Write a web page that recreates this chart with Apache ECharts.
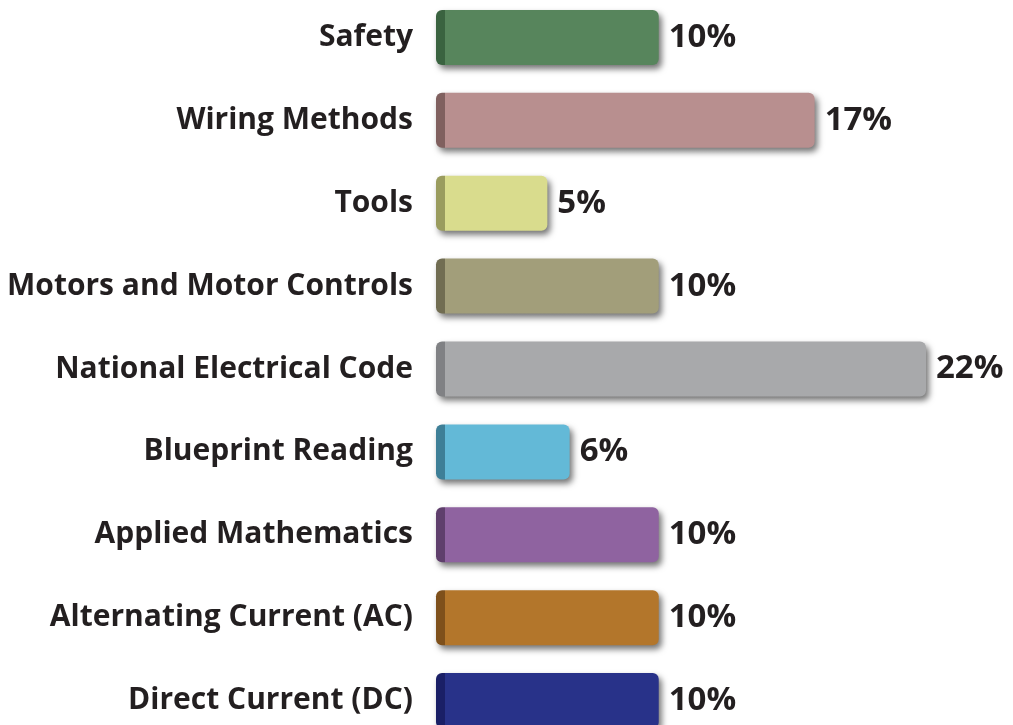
<!DOCTYPE html>
<html>
<head>
<meta charset="utf-8">
<script src="https://cdn.jsdelivr.net/npm/echarts@6/dist/echarts.min.js"></script>
<style>
html,body{margin:0;padding:0;background:#fff;}
#chart{width:1013px;height:725px;}
</style>
</head>
<body>
<div id="chart"></div>
<script>
const categories = ["Safety","Wiring Methods","Tools","Motors and Motor Controls","National Electrical Code","Blueprint Reading","Applied Mathematics","Alternating Current (AC)","Direct Current (DC)"];
const values = [10,17,5,10,22,6,10,10,10];
const faceColors = ["#57855c","#b88f8f","#d9dc8d","#a29e7a","#a8a9ab","#63b9d7","#8f63a0","#b3762b","#283289"];
const edgeColors = ["#3a6340","#80605f","#9a9c5e","#716d52","#808184","#3e7f97","#5f3f6c","#7e501b","#1a1f66"];

const pxPerUnit = 490 / 22;
const data = values.map((v, i) => {
  const edge = Math.min(0.5, 9 / (v * pxPerUnit));
  return {
    value: v,
    itemStyle: {
      color: {
        type: 'linear', x: 0, y: 0, x2: 1, y2: 0,
        colorStops: [
          {offset: 0, color: edgeColors[i]},
          {offset: edge, color: edgeColors[i]},
          {offset: edge + 0.001, color: faceColors[i]},
          {offset: 1, color: faceColors[i]}
        ]
      }
    }
  };
});

const chart = echarts.init(document.getElementById('chart'));
chart.setOption({
  animation: false,
  backgroundColor: '#ffffff',
  grid: {left: 436, width: 490, top: -4, height: 746, outerBoundsMode: 'none', containLabel: false},
  xAxis: {type: 'value', min: 0, max: 22, show: false},
  yAxis: {
    type: 'category', data: categories, inverse: true,
    axisLine: {show: false}, axisTick: {show: false},
    axisLabel: {margin: 23, fontSize: 30, fontWeight: 'bold', color: '#231f20', fontFamily: 'Open Sans'}
  },
  series: [{
    type: 'bar',
    data: data,
    barWidth: 55,
    itemStyle: {
      borderRadius: 6,
      shadowColor: 'rgba(0,0,0,0.55)',
      shadowBlur: 6,
      shadowOffsetX: 3,
      shadowOffsetY: 4
    },
    label: {
      show: true, position: 'right', distance: 10,
      formatter: '{c}%',
      fontSize: 33, fontWeight: 'bold', color: '#231f20', fontFamily: 'Open Sans'
    }
  }]
});
</script>
</body>
</html>
